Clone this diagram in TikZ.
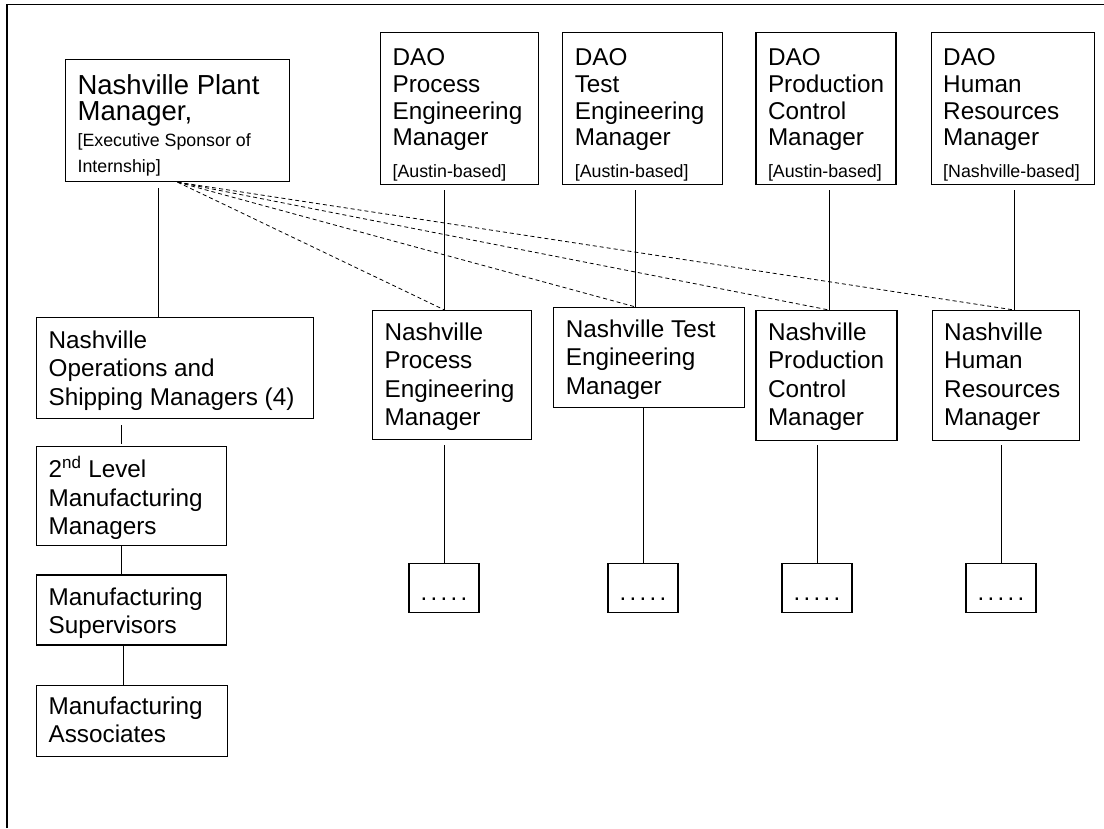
\documentclass[tikz,border=0pt]{standalone}
\usepackage{fontspec}
\setmainfont{Liberation Sans}
\usetikzlibrary{positioning}

\newcommand{\smalltxt}{\fontsize{17.8}{20}\selectfont\spaceskip=0pt\xspaceskip=0pt\relax}
\newcommand{\fivedots}{.\kern3.3pt.\kern3.3pt.\kern3.3pt.\kern3.3pt.}

\begin{document}
\begin{tikzpicture}[
        x = 1pt, y = -1pt,
        box/.style n args = {3}{
            draw,
            line width = 1.2pt,
            anchor = north west,
            align = flush left,
            inner xsep = 12pt,
            inner ysep = 0pt,
            text width = #1,
            text height = #2,
            text depth = #3,
            font = \fontsize{24.3}{28.2}\selectfont
        },
        dao/.style = {font = \fontsize{24.3}{26.7}\selectfont},
        dotbox/.style = {
            draw,
            line width = 1.2pt,
            anchor = north,
            minimum width = 70pt,
            inner xsep = 0pt,
            inner ysep = 0pt,
            text height = 37pt,
            text depth = 12pt,
            font = \fontsize{24}{27}\selectfont
        },
        link/.style = {line width = 0.9pt},
        dashlink/.style = {line width = 0.8pt, dash pattern = on 4pt off 3pt}
    ]
    \useasboundingbox (0,0) rectangle (1104,828);
    \draw[line width = 1.2pt] (7,828) -- (7,4.5) -- (1104,4.5);

    \node[box={200pt}{35pt}{87pt}, font=\fontsize{27.5}{26}\selectfont] (plant) at (65,59) {Nashville Plant\\Manager,\\{\smalltxt [Executive Sponsor of}\\{\smalltxt Internship]}};

    \node[box={134pt}{33pt}{119pt}, dao] (dpe) at (380,32) {DAO\\Process\\Engineering\\Manager\\[5pt]{\smalltxt [Austin-based]}};
    \node[box={136pt}{33pt}{119pt}, dao, right=23pt of dpe.north east, anchor=north west] (dte) {DAO\\Test\\Engineering\\Manager\\[5pt]{\smalltxt [Austin-based]}};
    \node[box={116pt}{33pt}{119pt}, dao, right=32pt of dte.north east, anchor=north west] (dpc) {DAO\\Production\\Control\\Manager\\[5pt]{\smalltxt [Austin-based]}};
    \node[box={139pt}{33pt}{119pt}, dao, right=34pt of dpc.north east, anchor=north west] (dhr) {DAO\\Human\\Resources\\Manager\\[5pt]{\smalltxt [Nashville-based]}};

    \node[box={135pt}{30pt}{99pt}] (npe) at (372,310) {Nashville\\Process\\Engineering\\Manager};
    \node[box={167pt}{30pt}{70pt}, right=21pt of npe.north east, anchor=north west, yshift=3pt] (nte) {Nashville Test\\Engineering\\Manager};
    \node[box={117pt}{30pt}{100pt}, right=10pt of nte.north east, anchor=north west, yshift=-3pt] (npc) {Nashville\\Production\\Control\\Manager};
    \node[box={123pt}{30pt}{100pt}, right=34pt of npc.north east, anchor=north west] (nhr) {Nashville\\Human\\Resources\\Manager};

    \node[box={253pt}{31pt}{70pt}] (ops) at (36,317) {Nashville\\Operations and\\Shipping Managers (4)};
    \node[box={166pt}{31pt}{68pt}, below=27pt of ops.south west, anchor=north west] (lvl2) {2\textsuperscript{nd} Level\\Manufacturing\\Managers};
    \node[box={166pt}{30pt}{40pt}, below=28pt of lvl2.south west, anchor=north west] (sup) {Manufacturing\\Supervisors};
    \node[box={167pt}{29pt}{42pt}, below=39pt of sup.south west, anchor=north west] (assoc) {Manufacturing\\Associates};

    \node[dotbox] (d1) at (444,563) {\fivedots};
    \node[dotbox] (d2) at (643,563) {\fivedots};
    \node[dotbox] (d3) at (817,563) {\fivedots};
    \node[dotbox] (d4) at (1001,563) {\fivedots};

    \draw[link, shorten <=6pt] ([xshift=-19pt]plant.south) -- ([xshift=-19pt]plant.south |- ops.north);
    \draw[link, shorten <=6pt, shorten >=2pt] ([xshift=-10pt]lvl2.north |- ops.south) -- ([xshift=-10pt]lvl2.north);
    \draw[link] ([xshift=-10pt]sup.north |- lvl2.south) -- ([xshift=-10pt]sup.north);
    \draw[link] ([xshift=-9pt]assoc.north |- sup.south) -- ([xshift=-9pt]assoc.north);

    \draw[link, shorten <=5pt] ([xshift=-15pt]dpe.south) -- ([xshift=-15pt]dpe.south |- npe.north) coordinate (pe);
    \draw[link, shorten <=5pt] ([xshift=-7pt]dte.south) -- ([xshift=-7pt]dte.south |- nte.north) coordinate (te);
    \draw[link, shorten <=5pt] ([xshift=3pt]dpc.south) -- ([xshift=3pt]dpc.south |- npc.north) coordinate (pc);
    \draw[link, shorten <=5pt] ([xshift=1.5pt]dhr.south) -- ([xshift=1.5pt]dhr.south |- nhr.north) coordinate (hr);

    \draw[link, shorten <=5pt] (npe.south -| d1) -- (d1.north);
    \draw[link] (nte.south -| d2) -- (d2.north);
    \draw[link, shorten <=4pt] (npc.south -| d3) -- (d3.north);
    \draw[link, shorten <=4pt] (nhr.south -| d4) -- (d4.north);

    \draw[dashlink] (plant.south) -- (pe);
    \draw[dashlink] (plant.south) -- (te);
    \draw[dashlink] (plant.south) -- (pc);
    \draw[dashlink] (plant.south) -- (hr);

\end{tikzpicture}
\end{document}
